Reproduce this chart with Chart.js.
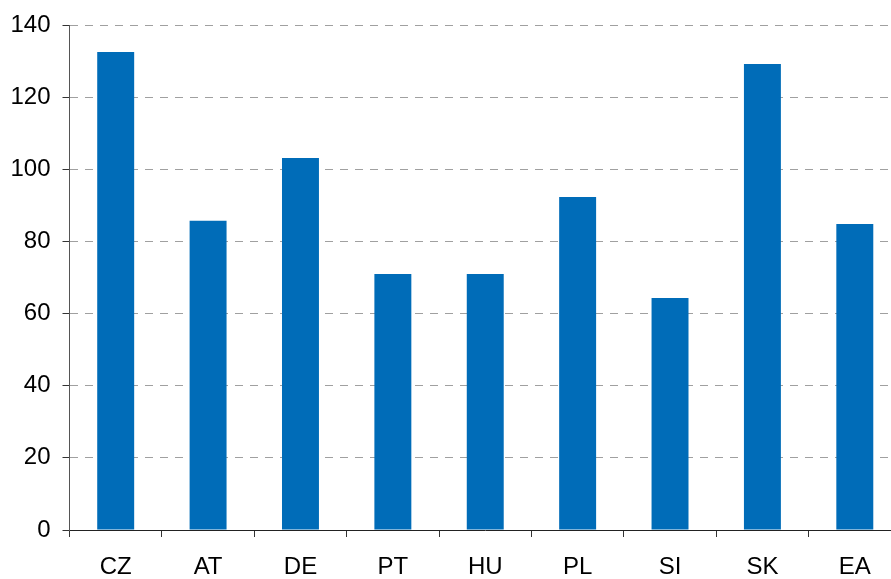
<!DOCTYPE html>
<html><head><meta charset="utf-8">
<script src="https://cdn.jsdelivr.net/npm/chart.js@4.4.0/dist/chart.umd.min.js"></script>
<style>html,body{margin:0;padding:0;overflow:hidden;background:#fff}#wrap{width:901px;height:579px;position:relative}</style>
</head><body><div id="wrap"><canvas id="c"></canvas></div>
<script>
const categories = ['CZ','AT','DE','PT','HU','PL','SI','SK','EA'];
const values = [132.5, 85.7, 103.1, 71.0, 71.0, 92.3, 64.3, 129.2, 84.8];
const yTicks = [0,20,40,60,80,100,120,140];
const FONT = {family:'"Liberation Sans", Arial, sans-serif', size:24};
new Chart(document.getElementById('c'), {
  type:'bar',
  data:{labels:categories, datasets:[{data:values, backgroundColor:'#006cb8', categoryPercentage:1, barPercentage:0.4}]},
  options:{
    responsive:true, maintainAspectRatio:false, animation:false,
    layout:{padding:{top:25,right:0,left:0,bottom:0}},
    plugins:{legend:{display:false}, tooltip:{enabled:false}},
    scales:{
      x:{
        grid:{drawOnChartArea:false, drawTicks:true, tickLength:7, color:'#333', offset:true},
        border:{display:true, color:'#222', width:1},
        ticks:{font:FONT, color:'#000', padding:16, maxRotation:0},
        afterFit:s=>{s.height=49; s.paddingLeft=0; s.paddingRight=0;}
      },
      y:{
        min:0, max:140,
        afterBuildTicks:s=>{s.ticks = yTicks.map(v=>({value:v}));},
        grid:{color:'#a0a0a0', lineWidth:1, tickLength:7, tickColor:'#333'},
        border:{display:true, color:'#555', dash:[8,7]},
        ticks:{font:FONT, color:'#000', padding:12},
        afterFit:s=>{s.width=69.5; s.paddingTop=0; s.paddingBottom=0;}
      }
    }
  }
});
</script></body></html>
